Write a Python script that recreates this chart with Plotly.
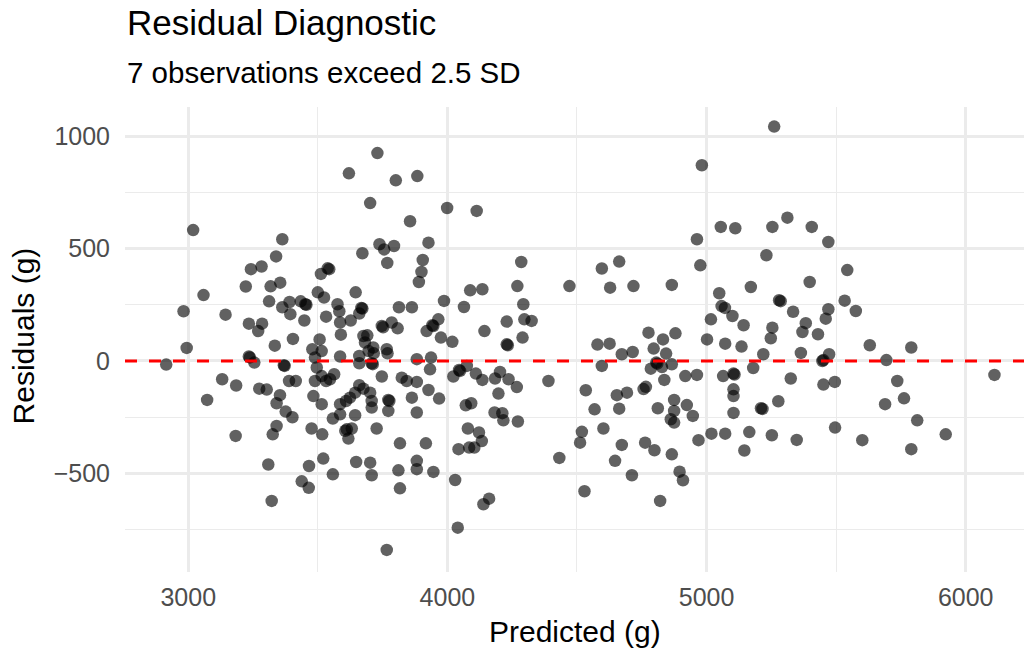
import plotly.graph_objects as go

# Predicted body mass (g) and residuals (g)
predicted = [
    3019, 3363, 3339, 3242, 3283, 3222, 3318, 3355, 3059, 3312, 3363, 3391, 3394, 3434, 3452, 3448,
    3512, 3500, 2982, 3144, 3234, 3285, 3270, 3404, 3334, 3507, 2994, 3479, 2915, 3234, 3255, 3369,
    3489, 3496, 3131, 3185, 3274, 3303, 3389, 3415, 3489, 3354, 3341, 3483, 3515, 3073, 3376, 3402,
    3341, 3326, 3476, 3517, 3183, 3309, 3466, 3521, 3438, 3465, 3322, 3238, 3372, 3456,
    3730, 3620, 3801, 3884, 3702, 3856, 3738, 3756, 3794, 3672, 3768, 3905, 3900, 3890, 3544, 3538,
    3646, 3524, 3576, 3583, 3532, 3672, 3668, 3660, 3813, 3863, 3586, 3627, 3589, 3747, 3752, 3785,
    3808, 3676, 3691, 3682, 3714, 3766,
    3515, 3586, 3660, 3696, 3716, 3769, 3882, 3660, 3708, 3712, 3515, 3547, 3563, 3532, 3747, 3824,
    3843, 3882, 3660, 3676, 3702, 3644, 3624, 3609, 3586, 3708, 3708, 3772, 3776, 3772, 3863, 3882,
    3644, 3558, 3586, 3612, 3606, 3631, 3618, 3727, 3817, 3648, 3702, 3558, 3708, 3811, 3882, 3882,
    3817, 3766,
    3999, 4113, 3927, 4285, 4270, 4088, 4135, 3987, 4064, 4293, 3965, 3942, 3946, 3920, 3975, 4019,
    4143, 4229, 4297, 4229, 4233, 4290,
    3937, 3933, 3927, 3968, 4023, 4049, 4045, 4075, 4110, 4135, 4184, 4203, 4236, 4268, 4197, 4071,
    4092, 4182, 4212, 4216, 4272, 4079, 4122, 4133, 4043, 4084, 4104, 3917, 3946, 4030, 4161, 4139,
    4040,
    4963, 4976, 4596, 4663, 4471, 4628, 4718, 4866, 4325, 4776, 4832, 4880, 4579, 4626, 4673, 4715,
    4796, 4844, 4596, 4785, 4806, 4810, 4828, 4866, 4918, 4963, 4837, 4390, 4534, 4654, 4693, 4757,
    4766, 4568, 4663, 4812, 4875, 4924, 4947, 4875, 4862, 4875, 4519, 4512, 4602, 4673, 4763, 4799,
    4866, 4969, 4432, 4647, 4712, 4896, 4909, 4529, 4821,
    5261, 4982, 5055, 5111, 5254, 5312, 5406, 5470, 5231, 5543, 5398, 5049, 5171, 5058, 5071, 5100,
    5280, 5286, 5334, 5143, 5017, 5254, 5248, 5383, 5370, 5470, 5460, 5533, 5430, 5002, 5072, 5135,
    5219, 5364, 5473, 5447, 5451, 5064, 5104, 5108, 5180, 5325, 5451, 5495, 5104, 5104, 5210, 5216,
    5277, 5104, 5019, 5072, 5165, 5252, 5348, 5496, 5146,
    5576, 5630, 5790, 5694, 5736, 5762, 5689, 5813, 5601, 5790, 5923, 6111,
]

residuals = [
    582, 541, 465, 408, 420, 331, 332, 348, 293, 265, 239, 262, 208, 265, 252, 180,
    387, 305, 221, 206, 166, 166, 133, 98, 68, 96, 58, 52, -16, 20, -7, -19,
    15, -29, -81, -109, -123, -127, -89, -89, -89, -152, -188, -156, -192, -173, -225, -250,
    -289, -326, -300, -326, -333, -460, -467, -434, -535, -564, -622, 16, -22, 250,
    924, 834, 803, 822, 702, 621, 519, 496, 511, 479, 436, 449, 396, 351, 408, 412,
    305, 282, 252, 221, 197, 233, 236, 211, 239, 239, 171, 180, 117, 156, 150, 171,
    145, 111, 114, 82, 60, 52,
    44, 20, 22, 44, 34, 34, 8, -10, -10, -14, -67, -81, -59, -89, -69, -74,
    -89, -93, -108, -123, -141, -141, -163, -178, -192, -178, -207, -173, -178, -222, -163, -229,
    -241, -256, -237, -304, -310, -300, -345, -300, -366, -449, -452, -504, -508, -486, -444, -481,
    -566, -840,
    680, 667, 526, 440, 333, 314, 319, 267, 240, 252, 185, 159, 155, 133, 104, 85,
    133, 175, 185, 74, 70, 104,
    15, -37, -129, -167, -69, -44, -40, -22, -56, -84, -78, -49, -81, -116, -145, -197,
    -188, -229, -232, -264, -269, -300, -318, -356, -392, -385, -385, -366, -493, -529, -612, -637,
    -741,
    541, 425, 411, 442, 333, 326, 333, 338, 178, 126, 96, 123, 73, 77, 30, 40,
    55, 33, -22, -34, -7, -12, -27, -15, -67, -62, -84, -89, -130, -152, -141, -125,
    -115, -215, -212, -210, -173, -196, -244, -222, -259, -274, -315, -363, -300, -373, -363, -397,
    -415, -352, -431, -444, -508, -492, -530, -579, -622,
    1042, 870, 596, 590, 596, 637, 596, 529, 470, 404, 351, 301, 329, 244, 236, 200,
    270, 266, 219, 159, 185, 148, 101, 168, 129, 230, 188, 268, 119, 96, 77, 64,
    30, 36, 30, 0, 4, -67, -56, -60, -31, -78, -105, -93, -126, -156, -210, -213,
    -179, -231, -323, -323, -316, -330, -351, -296, -398,
    222, 70, 60, 4, -89, -166, -192, -264, -352, -392, -326, -62,
]

x_ticks = [3000, 4000, 5000, 6000]
y_ticks = [-500, 0, 500, 1000]
title_text = "Residual Diagnostic"
subtitle_text = "7 observations exceed 2.5 SD"
x_title = "Predicted (g)"
y_title = "Residuals (g)"

FONT = "Liberation Sans, Arial, Helvetica, sans-serif"
GRID = "#EBEBEB"

fig = go.Figure()
fig.add_trace(go.Scatter(
    x=predicted, y=residuals, mode="markers",
    marker=dict(size=12.5, color="black", opacity=0.62, line=dict(width=0)),
    hoverinfo="skip", showlegend=False,
))

fig.add_shape(type="line", xref="paper", x0=0, x1=1, yref="y", y0=0, y1=0,
              line=dict(color="#FF0000", width=3.2, dash="12px,12px"), layer="above")

axis_common = dict(
    showline=False, zeroline=False, showgrid=True, gridcolor=GRID, gridwidth=2.6,
    ticks="outside", tickcolor="rgba(0,0,0,0)",
    tickfont=dict(family=FONT, size=25, color="#4D4D4D"),
)

fig.update_xaxes(range=[2756, 6225], tickvals=x_ticks, ticklen=3,
                 minor=dict(dtick=500, tick0=0, showgrid=True, gridcolor=GRID, gridwidth=1.3),
                 **axis_common)
fig.update_yaxes(range=[-938, 1129], tickvals=y_ticks, ticklen=9,
                 minor=dict(dtick=250, tick0=0, showgrid=True, gridcolor=GRID, gridwidth=1.3),
                 **axis_common)

ann = [
    dict(text=title_text, x=0, y=1.181, xanchor="left", yanchor="middle",
         font=dict(family=FONT, size=35, color="black")),
    dict(text=subtitle_text, x=0, y=1.075, xanchor="left", yanchor="middle",
         font=dict(family=FONT, size=29.5, color="black")),
    dict(text=x_title, x=0.5, y=-0.129, xanchor="center", yanchor="middle",
         font=dict(family=FONT, size=30, color="black")),
    dict(text=y_title, x=-0.113, y=0.5075, xanchor="center", yanchor="middle", textangle=-90,
         font=dict(family=FONT, size=30, color="black")),
]
for a in ann:
    fig.add_annotation(xref="paper", yref="paper", showarrow=False, **a)

fig.update_layout(
    width=1029, height=649,
    margin=dict(l=125, r=5, t=107, b=77, pad=0),
    paper_bgcolor="white", plot_bgcolor="white",
    font=dict(family=FONT),
)

fig.write_html("out.html", config={"displayModeBar": False},
               post_script="document.body.style.margin='0';document.body.style.overflow='hidden';")
